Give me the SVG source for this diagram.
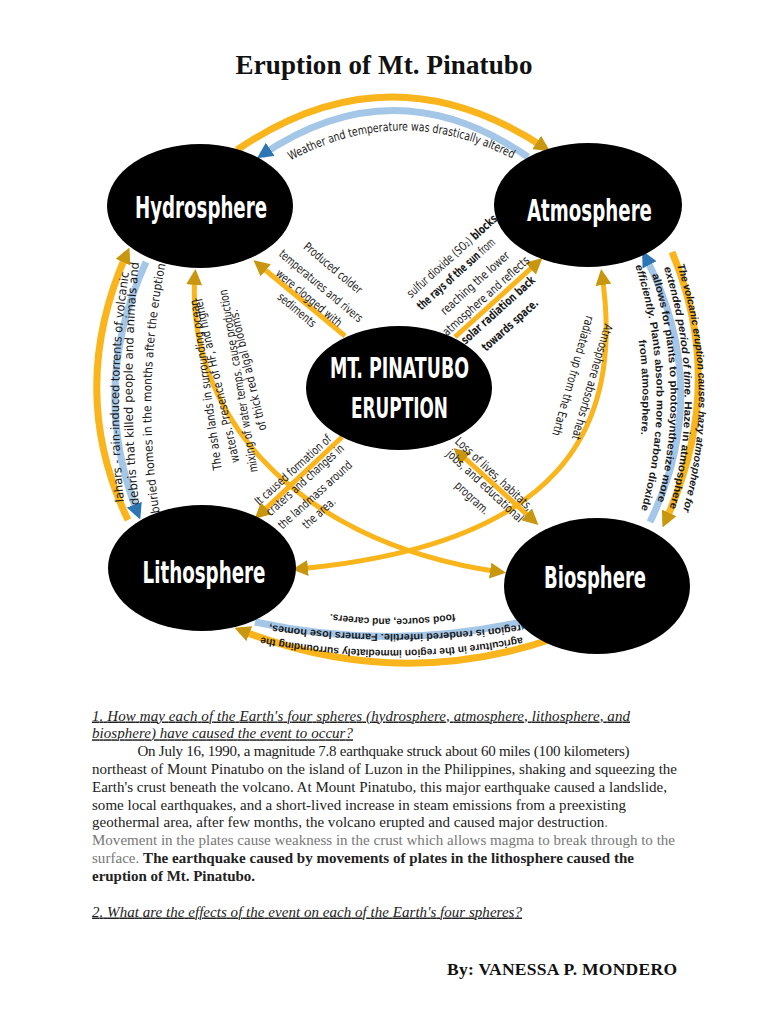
<svg xmlns="http://www.w3.org/2000/svg" width="768" height="1024" viewBox="0 0 768 1024">
<defs>
<style>
.node{fill:#000}
.nl{fill:#fff;font-family:"DejaVu Sans Condensed","Liberation Sans Narrow","Roboto",sans-serif;font-weight:bold;text-anchor:middle}
.y{fill:none;stroke:#F9B51B;stroke-width:7}
.yi{fill:none;stroke:#F9B51B;stroke-width:5}
.b{fill:none;stroke:#A4C6E7;stroke-width:7}
.t{font-family:"DejaVu Sans Condensed","Liberation Sans Narrow","Roboto",sans-serif;font-size:12px;fill:#1a1a1a}
.s{font-family:"Liberation Sans","Arial",sans-serif;font-size:10.5px;fill:#1a1a1a;font-weight:bold}
.c{text-anchor:middle}
.bd{font-weight:bold}
.p{font-family:"Liberation Serif","Times New Roman",serif;font-size:15px;fill:#222}
.ttl{font-family:"Liberation Serif","Times New Roman",serif;font-size:27px;font-weight:bold;fill:#111}
.by{font-family:"Liberation Serif","Times New Roman",serif;font-size:17.5px;font-weight:bold;fill:#111}
.g{fill:#777}
.q{font-style:italic;text-decoration:underline}
</style>
<marker id="ay" markerUnits="userSpaceOnUse" markerWidth="16" markerHeight="16" refX="10" refY="8" orient="auto-start-reverse" viewBox="0 0 16 16"><path d="M0,0 L16,8 L0,16 z" fill="#C9970F"/></marker>
<marker id="ab" markerUnits="userSpaceOnUse" markerWidth="16" markerHeight="16" refX="10" refY="8" orient="auto-start-reverse" viewBox="0 0 16 16"><path d="M0,0 L16,8 L0,16 z" fill="#2E75B6"/></marker>
<path id="tpTop" d="M288,162 Q400,100 515,160"/>
<path id="tr1" d="M676,262 Q718,388 682,514"/>
<path id="tr2" d="M662,262 Q704,388 668,514"/>
<path id="tr3" d="M648,262 Q690,388 654,514"/>
<path id="tr4" d="M634,262 Q676,388 640,514"/>
<path id="tr5" d="M620,262 Q662,388 626,514"/>
<path id="tb1" d="M460,613 Q393,624 325,613"/>
<path id="tb2" d="M525,624 Q396,644 265,624"/>
<path id="tb3" d="M528,636 Q393,664 255,636"/>
<path id="tl1" d="M124,502 Q112,388 129,272"/>
<path id="tl2" d="M139,505 Q126,388 139,262"/>
<path id="tl3" d="M160,515 Q140,390 166,262"/>
</defs>
<rect width="768" height="1024" fill="#fff"/>

<text class="ttl" x="384" y="74" text-anchor="middle" textLength="297">Eruption of Mt. Pinatubo</text>

<g id="connectors">
<path class="y" d="M237,150 Q390,45 545,148" marker-end="url(#ay)"/>
<path class="b" d="M528,157 Q395,65 262,155" marker-end="url(#ab)"/>
<path class="y" d="M672,252 Q728,385 665,522" marker-end="url(#ay)"/>
<path class="b" d="M650,522 Q714,389 645,256" marker-end="url(#ab)"/>
<path class="y" d="M555,638 Q398,692 240,630" marker-end="url(#ay)"/>
<path class="b" d="M255,622 Q393,652 530,620" marker-end="url(#ab)"/>
<path class="y" d="M128,520 Q66,390 127,253" marker-end="url(#ay)"/>
<path class="b" d="M146,262 Q88,388 138,514" marker-end="url(#ab)"/>
<path class="yi" d="M345,336 L258,264" marker-end="url(#ay)"/>
<path class="yi" d="M455,337 L538,262" marker-end="url(#ay)"/>
<path class="yi" d="M342,437 L259,515" marker-end="url(#ay)"/>
<path class="yi" d="M458,452 L534,521" marker-start="url(#ay)" marker-end="url(#ay)"/>
<path class="yi" d="M195,275 C185,400 280,540 500,572" marker-start="url(#ay)" marker-end="url(#ay)"/>
<path class="yi" d="M602,275 C625,430 560,545 298,569" marker-start="url(#ay)" marker-end="url(#ay)"/>
</g>

<g id="hydrosphere">
<ellipse class="node" cx="200" cy="206" rx="93" ry="62"/>
<text class="nl" x="201" y="218" font-size="31" textLength="132" lengthAdjust="spacingAndGlyphs">Hydrosphere</text>
</g>
<g id="atmosphere">
<ellipse class="node" cx="588" cy="205" rx="94" ry="62"/>
<text class="nl" x="589.5" y="221" font-size="31" textLength="125" lengthAdjust="spacingAndGlyphs">Atmosphere</text>
</g>
<g id="eruption">
<ellipse class="node" cx="399" cy="388" rx="93" ry="62"/>
<text class="nl" x="399.5" y="378" font-size="29" textLength="139" lengthAdjust="spacingAndGlyphs">MT. PINATUBO</text>
<text class="nl" x="399.5" y="418" font-size="29" textLength="97" lengthAdjust="spacingAndGlyphs">ERUPTION</text>
</g>
<g id="lithosphere">
<ellipse class="node" cx="202" cy="568" rx="94" ry="63"/>
<text class="nl" x="204" y="583" font-size="31" textLength="123" lengthAdjust="spacingAndGlyphs">Lithosphere</text>
</g>
<g id="biosphere">
<ellipse class="node" cx="597" cy="586" rx="93" ry="68"/>
<text class="nl" x="595" y="588" font-size="31" textLength="102" lengthAdjust="spacingAndGlyphs">Biosphere</text>
</g>

<g id="labels">
<text class="t"><textPath href="#tpTop" startOffset="50%" text-anchor="middle" textLength="232" lengthAdjust="spacingAndGlyphs">Weather and temperature was drastically altered</textPath></text>

<text class="s" font-style="italic"><textPath href="#tr1" startOffset="50%" text-anchor="middle" textLength="250" lengthAdjust="spacingAndGlyphs">The volcanic eruption causes hazy atmosphere for</textPath></text>
<text class="s"><textPath href="#tr2" startOffset="50%" text-anchor="middle" textLength="244" lengthAdjust="spacingAndGlyphs"><tspan font-style="italic">extended period of time.</tspan> Haze in atmosphere</textPath></text>
<text class="s"><textPath href="#tr3" startOffset="50%" text-anchor="middle" textLength="230" lengthAdjust="spacingAndGlyphs">allows for plants to photosynthesize more</textPath></text>
<text class="s"><textPath href="#tr4" startOffset="50%" text-anchor="middle" textLength="248" lengthAdjust="spacingAndGlyphs"><tspan font-style="italic">efficiently.</tspan> Plants absorb more carbon dioxide</textPath></text>
<text class="s"><textPath href="#tr5" startOffset="50%" text-anchor="middle" textLength="95" lengthAdjust="spacingAndGlyphs">from atmosphere.</textPath></text>

<text class="s"><textPath href="#tb1" startOffset="50%" text-anchor="middle" textLength="125" lengthAdjust="spacingAndGlyphs">food source, and careers.</textPath></text>
<text class="s"><textPath href="#tb2" startOffset="50%" text-anchor="middle" textLength="252" lengthAdjust="spacingAndGlyphs">region is rendered infertile.  Farmers lose homes,</textPath></text>
<text class="s"><textPath href="#tb3" startOffset="50%" text-anchor="middle" textLength="263" lengthAdjust="spacingAndGlyphs">agriculture in the region immediately surrounding the</textPath></text>

<text class="t"><textPath href="#tl1" startOffset="50%" text-anchor="middle" textLength="230" lengthAdjust="spacingAndGlyphs">lahars - rain-induced torrents of volcanic</textPath></text>
<text class="t"><textPath href="#tl2" startOffset="50%" text-anchor="middle" textLength="243" lengthAdjust="spacingAndGlyphs">debris that killed people and animals and</textPath></text>
<text class="t"><textPath href="#tl3" startOffset="50%" text-anchor="middle" textLength="250" lengthAdjust="spacingAndGlyphs">buried homes in the months after the eruption</textPath></text>

<text class="t c" transform="translate(330.4,271.1) rotate(40)" textLength="72" lengthAdjust="spacingAndGlyphs">Produced colder</text>
<text class="t c" transform="translate(318.4,289.1) rotate(40)" textLength="105" lengthAdjust="spacingAndGlyphs">temperatures and rivers</text>
<text class="t c" transform="translate(306.4,301.1) rotate(40)" textLength="82" lengthAdjust="spacingAndGlyphs">were clogged with</text>
<text class="t c" transform="translate(294.4,313.1) rotate(40)" textLength="46" lengthAdjust="spacingAndGlyphs">sediments</text>

<text class="t c" transform="translate(454.7,259) rotate(-42)" textLength="117" lengthAdjust="spacingAndGlyphs">sulfur dioxide (SO₂) <tspan class="bd">blocks</tspan></text>
<text class="t c" transform="translate(458.7,277) rotate(-42)" textLength="100" lengthAdjust="spacingAndGlyphs"><tspan class="bd">the rays of the sun</tspan> from</text>
<text class="t c" transform="translate(477.7,286) rotate(-42)" textLength="88" lengthAdjust="spacingAndGlyphs">reaching the lower</text>
<text class="t c" transform="translate(488.7,299) rotate(-42)" textLength="112" lengthAdjust="spacingAndGlyphs">atmosphere and reflects</text>
<text class="t c bd" transform="translate(500.7,313) rotate(-42)" textLength="95" lengthAdjust="spacingAndGlyphs">solar radiation back</text>
<text class="t c bd" transform="translate(512.7,328) rotate(-42)" textLength="71" lengthAdjust="spacingAndGlyphs">towards space.</text>

<text class="t c" transform="translate(295.7,473) rotate(-42)" textLength="98" lengthAdjust="spacingAndGlyphs">It caused formation of</text>
<text class="t c" transform="translate(307.7,483) rotate(-42)" textLength="100" lengthAdjust="spacingAndGlyphs">craters and changes in</text>
<text class="t c" transform="translate(317.7,498) rotate(-42)" textLength="95" lengthAdjust="spacingAndGlyphs">the landmass around</text>
<text class="t c" transform="translate(321.7,516) rotate(-42)" textLength="40" lengthAdjust="spacingAndGlyphs">the area.</text>

<text class="t c" transform="translate(491.3,476.9) rotate(43)" textLength="101" lengthAdjust="spacingAndGlyphs">Loss of lives, habitats,</text>
<text class="t c" transform="translate(482.3,488.9) rotate(43)" textLength="100" lengthAdjust="spacingAndGlyphs">jobs, and educational</text>
<text class="t c" transform="translate(469.3,500.9) rotate(43)" textLength="42" lengthAdjust="spacingAndGlyphs">program.</text>

<text class="t c" transform="translate(588.2,380.9) rotate(106)" textLength="120" lengthAdjust="spacingAndGlyphs">Atmosphere absorbs heat</text>
<text class="t c" transform="translate(569.2,374.9) rotate(106)" textLength="124" lengthAdjust="spacingAndGlyphs">radiated up from the Earth</text>

<text class="t c" transform="translate(209.9,384.3) rotate(-98)" textLength="172" lengthAdjust="spacingAndGlyphs">The ash lands in surrounding ocean</text>
<text class="t c" transform="translate(220.6,379.3) rotate(-103)" textLength="169" lengthAdjust="spacingAndGlyphs">waters. Presence of HF, and higher</text>
<text class="t c" transform="translate(242.4,380.3) rotate(-99.5)" textLength="185" lengthAdjust="spacingAndGlyphs">mixing of water temps. cause production</text>
<text class="t c" transform="translate(251.9,369.3) rotate(-103.7)" textLength="124" lengthAdjust="spacingAndGlyphs">of thick red algal blooms.</text>
</g>

<g id="text-body">
<text class="p q" x="92" y="720.5" textLength="538">1. How may each of the Earth's four spheres (hydrosphere, atmosphere, lithosphere, and</text>
<text class="p q" x="92" y="738.3" textLength="261">biosphere) have caused the event to occur?</text>
<text class="p" x="137.5" y="756.1" textLength="492">On July 16, 1990, a magnitude 7.8 earthquake struck about 60 miles (100 kilometers)</text>
<text class="p" x="92" y="773.9" textLength="585">northeast of Mount Pinatubo on the island of Luzon in the Philippines, shaking and squeezing the</text>
<text class="p" x="92" y="791.7" textLength="575">Earth's crust beneath the volcano. At Mount Pinatubo, this major earthquake caused a landslide,</text>
<text class="p" x="92" y="809.5" textLength="534">some local earthquakes, and a short-lived increase in steam emissions from a preexisting</text>
<text class="p" x="92" y="827.3" textLength="516">geothermal area, after few months, the volcano erupted and caused major destruction<tspan class="g">.</tspan></text>
<text class="p g" x="92" y="845.1" textLength="583">Movement in the plates cause weakness in the crust which allows magma to break through to the</text>
<text class="p" x="92" y="862.9" textLength="542"><tspan class="g">surface. </tspan><tspan font-weight="bold">The earthquake caused by movements of plates in the lithosphere caused the</tspan></text>
<text class="p" x="92" y="880.7" font-weight="bold" textLength="163">eruption of Mt. Pinatubo.</text>
<text class="p q" x="92" y="916.5" textLength="430">2. What are the effects of the event on each of the Earth's four spheres?</text>
<text class="by" x="447" y="975" textLength="230">By: VANESSA P. MONDERO</text>
</g>
</svg>
